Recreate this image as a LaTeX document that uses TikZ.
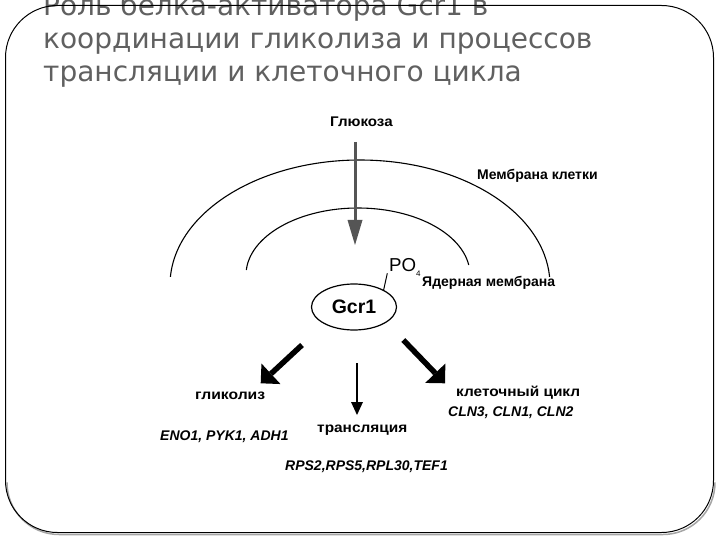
\documentclass[tikz,border=0pt]{standalone}
\usepackage{fontspec}
\usepackage{graphicx}
\setmainfont{Liberation Sans}
\newfontfamily\titlefont{DejaVu Sans}
\usetikzlibrary{arrows.meta,shapes.geometric,calc}
\definecolor{titlegray}{RGB}{96,96,96}
\definecolor{arrowgray}{RGB}{85,85,85}
\definecolor{shadowgray}{RGB}{165,165,165}
\newcommand\hstretch[2]{\scalebox{#1}[1]{#2}}
\begin{document}
\begin{tikzpicture}[x=1bp,y=1bp,
  titleline/.style={anchor=base west, inner sep=0pt, text=titlegray,
    font=\titlefont\fontsize{28bp}{33bp}\selectfont},
  lbl/.style={anchor=base west, inner sep=0pt,
    font=\fontsize{14bp}{16bp}\selectfont\bfseries},
  gene/.style={anchor=base west, inner sep=0pt,
    font=\fontsize{14bp}{16bp}\selectfont\bfseries\itshape},
  memb/.style={line width=1.1bp},
  grayarr/.style={draw=arrowgray, line width=3bp,
    -{Triangle[length=25bp,width=15bp,line width=0pt]}},
  fatarr/.style={draw=black, line width=5.5bp,
    -{Triangle[length=14bp,width=28bp,line width=0pt]}},
  thinarr/.style={draw=black, line width=2.7bp,
    -{Triangle[length=13bp,width=12bp,line width=0pt]}}]
\useasboundingbox (0,0) rectangle (720,-540);

% title
\node[titleline] (t1) at (43,-16) {Роль белка-активатора Gcr1 в};
\node[titleline] (t2) at (43,-49) {координации гликолиза и процессов};
\node[titleline] (t3) at (43,-82) {трансляции и клеточного цикла};

% frame with bottom shadow
\draw[shadowgray, line width=1.5bp, rounded corners=52bp]
  (7,-482.5) -- (7,-534.5) -- (715,-534.5) -- (715,-482.5);
\draw[line width=1bp, rounded corners=52bp] (5.5,-5.5) rectangle (713.5,-532.5);

% membranes
\coordinate (outc) at (360,-285);
\draw[memb] ($(outc)+(176.3:190bp and 125bp)$)
  arc[start angle=176.3, end angle=3.7, x radius=190bp, y radius=125bp];
\coordinate (inc) at (358,-275);
\draw[memb] ($(inc)+(175.7:112bp and 67bp)$)
  arc[start angle=175.7, end angle=8.6, x radius=112bp, y radius=67bp];

% labels
\node[lbl] (glu) at (330,-127) {\hstretch{1.08}{Глюкоза}};
\node[lbl] (mcell) at (477,-180) {Мембрана клетки};
\node[lbl] (mnuc) at (422,-287) {Ядерная мембрана};

% Gcr1
\node[ellipse, draw, line width=1.2bp, minimum width=85bp, minimum height=46bp,
  inner sep=0pt, font=\fontsize{19.5bp}{22bp}\selectfont\bfseries] (gcr) at (354,-307) {Gcr1};
\node[anchor=base west, inner sep=0pt, font=\fontsize{18.7bp}{20bp}\selectfont] (po) at (389,-271.7)
  {PO\raisebox{-0.25em}{\fontsize{8bp}{9bp}\selectfont 4}};
\coordinate (pos) at (387.3,-273.3);
\draw[line width=1bp] (pos) -- (gcr.30);

% glucose arrow
\coordinate (gs) at (355,-142);
\coordinate (ge) at (355,-245);
\draw[grayarr] (gs) -- (ge);

% output arrows
\coordinate (la) at (302,-345);
\coordinate (lb) at (260.7,-383.3);
\draw[fatarr] (la) -- (lb);
\coordinate (ra) at (403.3,-340);
\coordinate (rb) at (445,-383.3);
\draw[fatarr] (ra) -- (rb);
\coordinate (ma) at (357,-363);
\coordinate (mb) at (357,-415);
\draw[thinarr] (ma) -- (mb);

% process labels
\node[lbl] (gly) at (195,-399) {\hstretch{1.12}{гликолиз}};
\node[gene] (glyg) at (160,-440) {ENO1, PYK1, ADH1};
\node[lbl] (tr) at (317,-432) {\hstretch{1.1}{трансляция}};
\node[gene] (trg) at (285,-470) {RPS2,RPS5,RPL30,TEF1};
\node[lbl] (cc) at (456,-396) {\hstretch{1.1}{клеточный цикл}};
\node[gene] (ccg) at (448,-416.5) {CLN3, CLN1, CLN2};
\end{tikzpicture}
\end{document}
